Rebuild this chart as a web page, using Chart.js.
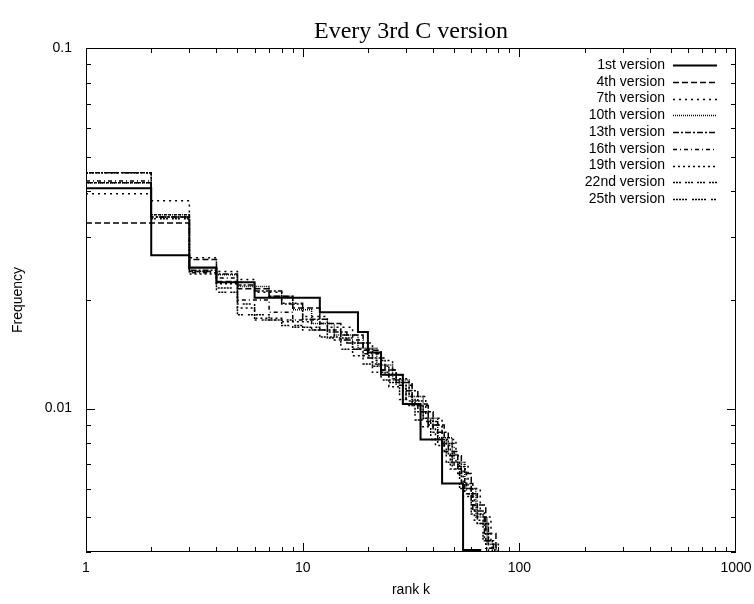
<!DOCTYPE html>
<html>
<head>
<meta charset="utf-8">
<script src="https://cdn.jsdelivr.net/npm/chart.js@4.4.1/dist/chart.umd.min.js"></script>
<style>
    html, body { margin: 0; padding: 0; background: #fff; }
</style>
</head>
<body>
<canvas id="graficoVersoes" width="754" height="604"></canvas>
<script>
// dados (rank k onde o degrau comeca, frequencia do degrau)
var rank1 = [1, 2, 3, 4, 6, 12, 18, 20, 23, 29, 35, 44, 55, 66];
var freq1 = [0.0408, 0.0266, 0.0246, 0.0224, 0.0203, 0.0185, 0.0163, 0.0143, 0.0124, 0.0103, 0.0082, 0.0062, 0.00405, 0.003];

var rank4 = [1, 3, 4, 5, 7, 9, 12, 15, 19, 23, 27, 32, 38, 45, 52, 60, 70, 78];
var freq4 = [0.0327, 0.0259, 0.0225, 0.0215, 0.0205, 0.0190, 0.0172, 0.0160, 0.0145, 0.0128, 0.0118, 0.0102, 0.0090, 0.0076, 0.0066, 0.0054, 0.0045, 0.003];

var rank7 = [1, 2, 3, 4, 5, 6, 8, 10, 13, 17, 21, 26, 31, 37, 44, 51, 58, 66, 74, 80];
var freq7 = [0.0394, 0.0377, 0.0262, 0.0240, 0.0228, 0.0210, 0.0196, 0.0180, 0.0168, 0.0152, 0.0136, 0.0121, 0.0108, 0.0094, 0.0082, 0.0070, 0.0060, 0.0050, 0.0042, 0.003];

var rank10 = [1, 2, 3, 4, 5, 7, 9, 11, 14, 18, 22, 26, 31, 36, 42, 49, 56, 63, 71, 78];
var freq10 = [0.0423, 0.0345, 0.0245, 0.0235, 0.0218, 0.0205, 0.0188, 0.0172, 0.0160, 0.0147, 0.0132, 0.0120, 0.0108, 0.0094, 0.0083, 0.0071, 0.0060, 0.0050, 0.0042, 0.003];

var rank13 = [1, 2, 3, 4, 5, 6, 8, 10, 13, 16, 20, 24, 29, 34, 40, 47, 54, 61, 69, 76];
var freq13 = [0.0423, 0.0340, 0.0242, 0.0236, 0.0220, 0.0212, 0.0195, 0.0177, 0.0163, 0.0152, 0.0138, 0.0124, 0.0112, 0.0098, 0.0086, 0.0074, 0.0062, 0.0052, 0.0043, 0.003];

var rank16 = [1, 2, 3, 4, 5, 7, 9, 12, 15, 19, 23, 27, 32, 38, 44, 50, 57, 64, 72, 79];
var freq16 = [0.0428, 0.0340, 0.0238, 0.0230, 0.0200, 0.0185, 0.0176, 0.0165, 0.0155, 0.0142, 0.0128, 0.0116, 0.0103, 0.0090, 0.0080, 0.0068, 0.0058, 0.0048, 0.0041, 0.003];

var rank19 = [1, 2, 3, 4, 5, 6, 8, 11, 14, 17, 21, 25, 30, 35, 41, 48, 55, 62, 70, 77];
var freq19 = [0.0451, 0.0345, 0.0236, 0.0222, 0.0190, 0.0178, 0.0174, 0.0165, 0.0155, 0.0140, 0.0126, 0.0115, 0.0102, 0.0089, 0.0079, 0.0068, 0.0057, 0.0049, 0.0041, 0.003];

var rank22 = [1, 2, 3, 4, 5, 6, 7, 9, 12, 15, 19, 23, 28, 33, 39, 46, 53, 60, 68, 75];
var freq22 = [0.0451, 0.0336, 0.0240, 0.0210, 0.0195, 0.0182, 0.0176, 0.0168, 0.0158, 0.0146, 0.0133, 0.0120, 0.0106, 0.0093, 0.0082, 0.0071, 0.0060, 0.0051, 0.0043, 0.003];

var rank25 = [1, 2, 3, 4, 5, 6, 8, 10, 13, 17, 21, 25, 30, 36, 42, 49, 56, 64, 72, 80];
var freq25 = [0.0451, 0.0340, 0.0240, 0.0216, 0.0182, 0.0176, 0.0170, 0.0165, 0.0157, 0.0146, 0.0131, 0.0118, 0.0105, 0.0092, 0.0080, 0.0069, 0.0058, 0.0048, 0.0040, 0.003];

var nomesVersoes = ['1st version', '4th version', '7th version', '10th version', '13th version',
    '16th version', '19th version', '22nd version', '25th version'];
var ticksX = [1, 10, 100, 1000];
var ticksY = [0.01, 0.1];

var ranks = [rank1, rank4, rank7, rank10, rank13, rank16, rank19, rank22, rank25];
var freqs = [freq1, freq4, freq7, freq10, freq13, freq16, freq19, freq22, freq25];

// estilos de linha parecidos com o gnuplot
var tracos = [[], [6, 3], [2, 4], [1, 1], [6, 2, 2, 2], [4, 3, 1, 3], [2, 3], [2, 1, 2, 1, 2, 4], [2, 1, 2, 1, 2, 1, 2, 1, 2, 5]];
var larguras = [2, 1.5, 1.5, 1.5, 1.5, 1.5, 1.5, 1.5, 1.5];

var fonteSans = '"Liberation Sans", Arial, Helvetica, sans-serif';

let datasets = [];
for (let i = 0; i < nomesVersoes.length; i++) {
    let pontos = [];
    for (let j = 0; j < ranks[i].length; j++) {
        pontos.push({ x: ranks[i][j], y: freqs[i][j] });
    }
    datasets.push({
        label: nomesVersoes[i],
        data: pontos,
        borderColor: '#000',
        borderWidth: larguras[i],
        borderDash: tracos[i],
        pointRadius: 0,
        stepped: 'before',
        fill: false
    });
}

// titulo, legenda e marcas internas (estilo gnuplot)
const pluginGnuplot = {
    id: 'pluginGnuplot',
    afterDraw(chart) {
        const ctx = chart.ctx;
        const area = chart.chartArea;
        const sx = chart.scales.x;
        const sy = chart.scales.y;
        ctx.save();

        ctx.strokeStyle = '#000';
        ctx.lineWidth = 1;
        ctx.setLineDash([]);
        ctx.strokeRect(area.left + 0.5, area.top + 0.5, area.right - area.left - 1, area.bottom - area.top - 1);

        ctx.beginPath();
        for (let d = 1; d < 1000; d *= 10) {
            for (let m = 1; m <= 9; m++) {
                let v = d * m;
                let px = Math.round(sx.getPixelForValue(v)) + 0.5;
                let len = m == 1 ? 9 : 5;
                ctx.moveTo(px, area.bottom); ctx.lineTo(px, area.bottom - len);
                ctx.moveTo(px, area.top); ctx.lineTo(px, area.top + len);
            }
        }
        let yVals = [0.004, 0.005, 0.006, 0.007, 0.008, 0.009, 0.01, 0.02, 0.03, 0.04, 0.05, 0.06, 0.07, 0.08, 0.09];
        yVals.forEach(v => {
            let py = Math.round(sy.getPixelForValue(v)) + 0.5;
            let len = (v == 0.01) ? 9 : 5;
            ctx.moveTo(area.left, py); ctx.lineTo(area.left + len, py);
            ctx.moveTo(area.right, py); ctx.lineTo(area.right - len, py);
        });
        ctx.stroke();

        ctx.fillStyle = '#000';
        ctx.font = '24px "Liberation Serif", "Times New Roman", serif';
        ctx.textAlign = 'center';
        ctx.textBaseline = 'middle';
        ctx.fillText('Every 3rd C version', (area.left + area.right) / 2, 32);

        ctx.font = '14px ' + fonteSans;
        ctx.textAlign = 'right';
        for (let i = 0; i < nomesVersoes.length; i++) {
            let y = 65 + i * 16.75;
            ctx.fillText(nomesVersoes[i], 665, y);
            ctx.lineWidth = larguras[i];
            ctx.setLineDash(tracos[i]);
            ctx.beginPath();
            ctx.moveTo(673, Math.round(y) + 0.5);
            ctx.lineTo(717, Math.round(y) + 0.5);
            ctx.stroke();
        }
        ctx.restore();
    }
};

const config = {
    type: 'line',
    data: { datasets: datasets },
    options: {
        responsive: false,
        animation: false,
        layout: { padding: { top: 48, right: 18, left: 0, bottom: 0 } },
        plugins: {
            legend: { display: false },
            tooltip: { enabled: false }
        },
        scales: {
            x: {
                type: 'logarithmic',
                min: 1,
                max: 1000,
                afterBuildTicks: s => { s.ticks = ticksX.map(v => ({ value: v })); },
                afterFit: s => { s.height = 52; s.paddingLeft = 0; s.paddingRight = 0; },
                ticks: {
                    callback: v => String(v),
                    color: '#000',
                    font: { family: fonteSans, size: 14 },
                    padding: 8,
                    maxRotation: 0,
                    autoSkip: false
                },
                grid: { drawOnChartArea: false, drawTicks: false },
                border: { display: false },
                title: {
                    display: true,
                    text: 'rank k',
                    color: '#000',
                    font: { family: fonteSans, size: 14 },
                    padding: { top: 0, bottom: 5 }
                }
            },
            y: {
                type: 'logarithmic',
                min: 0.004,
                max: 0.1,
                afterBuildTicks: s => { s.ticks = ticksY.map(v => ({ value: v })); },
                afterFit: s => { s.width = 86; s.paddingTop = 0; s.paddingBottom = 0; },
                ticks: {
                    callback: v => String(v),
                    color: '#000',
                    font: { family: fonteSans, size: 14 },
                    padding: 14,
                    autoSkip: false
                },
                grid: { drawOnChartArea: false, drawTicks: false },
                border: { display: false },
                title: {
                    display: true,
                    text: 'Frequency',
                    color: '#000',
                    font: { family: fonteSans, size: 14 },
                    padding: { top: 10, bottom: 0 }
                }
            }
        }
    },
    plugins: [pluginGnuplot]
};

let graficoVersoes = new Chart(document.getElementById('graficoVersoes'), config);
</script>
</body>
</html>
